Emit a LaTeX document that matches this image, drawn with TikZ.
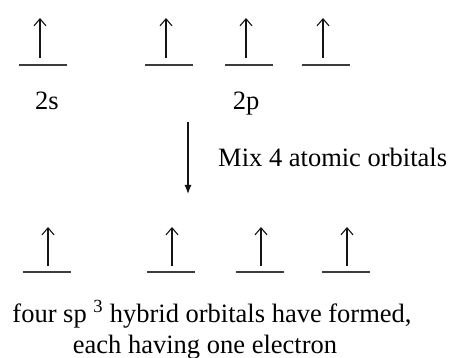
\documentclass[tikz,border=0pt]{standalone}
\usepackage{fontspec}
\setmainfont{Liberation Serif}
\usepackage{xcolor}
\usetikzlibrary{arrows.meta,positioning}
\definecolor{LevelGray}{RGB}{60,60,60}
\definecolor{SpinBlack}{RGB}{20,20,20}

\begin{document}
\begin{tikzpicture}[x=1pt,y=-1pt,
    level/.style={draw=LevelGray, line width=1.7pt},
    spin/.style={draw=SpinBlack, line width=1.1pt, -{Straight Barb[length=7pt,width=12pt]}},
    lbl/.style={font=\fontsize{26.5}{30}\selectfont, inner sep=0pt}]
  \useasboundingbox (0,0) rectangle (452,358);
    % atomic orbitals: 2s and the three 2p
    \foreach \n/\x in {s/43,pa/169,pb/249,pc/326} {
      \coordinate (\n) at (\x,65);
      \draw[level] ([xshift=-24pt]\n) -- ([xshift=24pt]\n);
      \draw[spin] ([xshift=-3pt,yshift=7pt]\n) -- ([xshift=-3pt,yshift=47pt]\n);
    }
    \node[lbl, anchor=base] (slabel) at (47,110) {2s};
    \node[lbl, anchor=base] (plabel) at (246,110) {2p};
    % mixing step
    \coordinate (mixtop) at (188,122);
    \coordinate (mixbot) at (188,194);
    \draw[draw=SpinBlack, line width=1.2pt, -{Latex[length=9pt,width=7pt]}] (mixtop) -- (mixbot);
    \node[lbl, anchor=base west] (mix) at (218,167) {Mix 4 atomic orbitals};
    % the four sp3 hybrids
    \foreach \n/\x in {ha/47,hb/171,hc/260,hd/346} {
      \coordinate (\n) at (\x,272);
      \draw[level] ([xshift=-24pt]\n) -- ([xshift=24pt]\n);
      \draw[spin] ([xshift=1pt,yshift=6pt]\n) -- ([xshift=1pt,yshift=45pt]\n);
    }
    \node[lbl, anchor=base] (hyb1) at (212,322) {four sp \textsuperscript{3} hybrid orbitals have formed,};
    \node[lbl, anchor=base] (hyb2) at (205,353) {each having one electron};
\end{tikzpicture}
\end{document}
